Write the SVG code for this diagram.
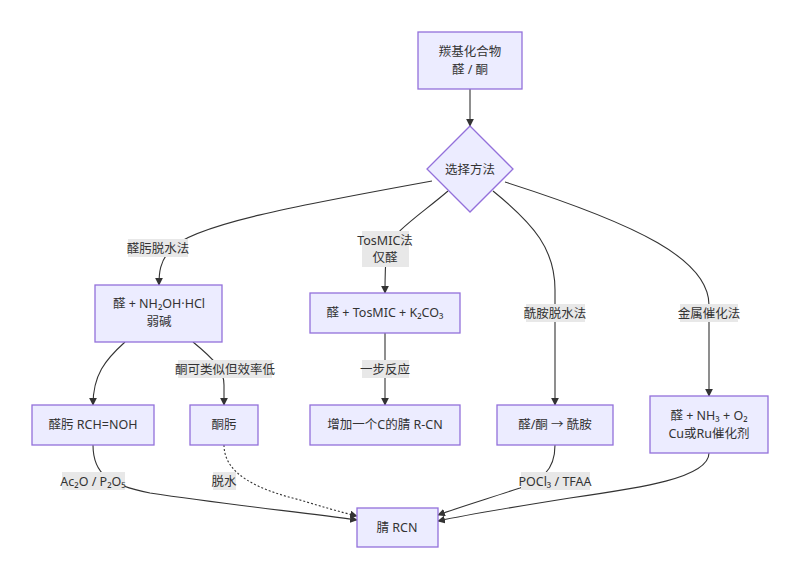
<svg xmlns="http://www.w3.org/2000/svg" width="800" height="580" viewBox="0 0 800 580">
<defs>
<marker id="ar" viewBox="0 0 10 10" refX="9" refY="5" markerWidth="7" markerHeight="7" orient="auto"><path d="M0,0L10,5L0,10z" fill="#333"/></marker>
<style>
.n{fill:#ECECFF;stroke:#9370DB;stroke-width:1.3}
.t{font-family:"Noto Sans","Noto Sans CJK SC",sans-serif;font-size:12.5px;fill:#333;text-anchor:middle}
.e{fill:none;stroke:#333;stroke-width:1.1;marker-end:url(#ar)}
.lb{fill:#e8e8e8}
</style>
</defs>
<rect width="800" height="580" fill="#fff"/>
<g id="edges">
<path class="e" d="M470,89L470,126"/>
<path class="e" d="M432,181C300,205 190,225 170,250C160,262 159,272 159,285"/>
<path class="e" d="M448,191C420,215 392,232 387,250C385,262 385,275 385,293"/>
<path class="e" d="M493,191C535,225 555,250 555,290L555,405"/>
<path class="e" d="M505,182C640,225 709,260 709,305L709,396"/>
<path class="e" d="M125,342C105,360 93,375 93,405"/>
<path class="e" d="M193,342C215,360 224,370 224,385L224,405"/>
<path class="e" d="M385,333L385,405"/>
<path class="e" d="M93,445C93,475 110,485 150,493C230,505 300,512 357,520"/>
<path class="e" d="M224,445C224,475 260,490 300,500C320,506 340,512 357,516" stroke-dasharray="2,2"/>
<path class="e" d="M555,445C555,472 540,480 520,488C490,498 460,507 438,515"/>
<path class="e" d="M709,453C709,478 640,488 570,498C520,506 470,514 438,521"/>
<rect class="lb" x="128" y="239" width="60" height="18"/><text class="t" x="158" y="253">醛肟脱水法</text>
<rect class="lb" x="362" y="231" width="47" height="36"/><text class="t" x="385" y="245">TosMIC法</text><text class="t" x="385" y="262">仅醛</text>
<rect class="lb" x="526" y="304" width="59" height="18"/><text class="t" x="555" y="318">酰胺脱水法</text>
<rect class="lb" x="680" y="304" width="58" height="18"/><text class="t" x="709" y="318">金属催化法</text>
<rect class="lb" x="178" y="360" width="94" height="18"/><text class="t" x="225" y="374">酮可类似但效率低</text>
<rect class="lb" x="362" y="360" width="47" height="18"/><text class="t" x="385" y="374">一步反应</text>
<rect class="lb" x="62" y="472" width="63" height="18"/><text class="t" x="93" y="486">Ac₂O / P₂O₅</text>
<rect class="lb" x="213" y="472" width="23" height="18"/><text class="t" x="224" y="486">脱水</text>
<rect class="lb" x="521" y="472" width="69" height="18"/><text class="t" x="555" y="486">POCl₃ / TFAA</text>
</g>
<g id="n0"><rect class="n" x="418" y="32" width="104" height="57"/><text class="t" x="470" y="56">羰基化合物</text><text class="t" x="470" y="74">醛 / 酮</text></g>
<g id="n1"><path class="n" d="M470,126L513,169L470,212L427,169z"/><text class="t" x="470" y="174">选择方法</text></g>
<g id="n2"><rect class="n" x="95" y="285" width="127" height="57"/><text class="t" x="159" y="308">醛 + NH₂OH·HCl</text><text class="t" x="159" y="326">弱碱</text></g>
<g id="n3"><rect class="n" x="310" y="293" width="150" height="40"/><text class="t" x="385" y="317">醛 + TosMIC + K₂CO₃</text></g>
<g id="n4"><rect class="n" x="32" y="405" width="122" height="40"/><text class="t" x="93" y="429">醛肟 RCH=NOH</text></g>
<g id="n5"><rect class="n" x="190" y="405" width="68" height="40"/><text class="t" x="224" y="429">酮肟</text></g>
<g id="n6"><rect class="n" x="310" y="405" width="150" height="40"/><text class="t" x="385" y="429">增加一个C的腈 R-CN</text></g>
<g id="n7"><rect class="n" x="497" y="405" width="116" height="40"/><text class="t" x="555" y="429">醛/酮 → 酰胺</text></g>
<g id="n8"><rect class="n" x="650" y="396" width="118" height="57"/><text class="t" x="709" y="420">醛 + NH₃ + O₂</text><text class="t" x="709" y="438">Cu或Ru催化剂</text></g>
<g id="n9"><rect class="n" x="357" y="508" width="81" height="39"/><text class="t" x="397" y="532">腈 RCN</text></g>
</svg>
